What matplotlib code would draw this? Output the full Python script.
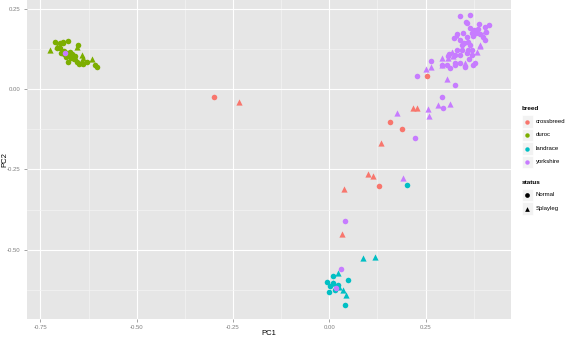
import matplotlib
matplotlib.use("Agg")
import matplotlib.pyplot as plt
from matplotlib.patches import Rectangle
from matplotlib.ticker import MultipleLocator

# ---------------- data ----------------
breeds = ["crossbreed", "duroc", "landrace", "yorkshire"]
colors = ["#F8766D", "#7CAE00", "#00BFC4", "#C77CFF"]
statuses = ["Normal", "Splayleg"]

# crossbreed
cross_n_pc1 = [-0.299, 0.158, 0.190, 0.253, 0.130]
cross_n_pc2 = [-0.025, -0.103, -0.124, 0.042, -0.303]
cross_s_pc1 = [-0.234, 0.218, 0.227, 0.134, 0.101, 0.114, 0.039, 0.032]
cross_s_pc2 = [-0.039, -0.059, -0.057, -0.168, -0.264, -0.270, -0.311, -0.452]

# duroc
duroc_n_pc1 = [-0.712, -0.699, -0.692, -0.678, -0.692, -0.708, -0.699, -0.697, -0.682, -0.673,
               -0.669, -0.665, -0.678, -0.652, -0.643, -0.649, -0.630, -0.608, -0.603, -0.688,
               -0.680, -0.675, -0.685, -0.670, -0.660, -0.690, -0.662, -0.655, -0.640]
duroc_n_pc2 = [0.148, 0.145, 0.148, 0.150, 0.144, 0.128, 0.128, 0.112, 0.107, 0.117,
               0.110, 0.101, 0.084, 0.138, 0.081, 0.078, 0.086, 0.076, 0.069, 0.110,
               0.113, 0.104, 0.100, 0.098, 0.105, 0.118, 0.095, 0.085, 0.080]
duroc_s_pc1 = [-0.725, -0.708, -0.656, -0.641, -0.639, -0.617, -0.670, -0.660]
duroc_s_pc2 = [0.122, 0.136, 0.133, 0.107, 0.097, 0.093, 0.108, 0.100]

# landrace
land_n_pc1 = [0.201, 0.009, 0.049, -0.005, 0.002, 0.019, 0.000, 0.015, 0.041, 0.010, 0.023]
land_n_pc2 = [-0.298, -0.581, -0.596, -0.602, -0.613, -0.617, -0.631, -0.625, -0.672, -0.604, -0.611]
land_s_pc1 = [0.087, 0.119, 0.023, 0.009, 0.035, 0.043, 0.025]
land_s_pc2 = [-0.526, -0.522, -0.573, -0.604, -0.627, -0.641, -0.616]

# yorkshire
york_n_pc1 = [-0.686, 0.030, 0.017, 0.041, 0.222, 0.227, 0.292, 0.296, 0.326,
              0.339, 0.365, 0.355, 0.358, 0.388, 0.414, 0.404, 0.387, 0.372, 0.407,
              0.332, 0.348, 0.325, 0.339, 0.359, 0.374, 0.400, 0.404, 0.361, 0.344,
              0.346, 0.331, 0.312, 0.309, 0.326, 0.339, 0.361, 0.372, 0.357, 0.370,
              0.364, 0.378, 0.374, 0.339, 0.326, 0.292, 0.264, 0.305, 0.314, 0.326,
              0.352, 0.381, 0.365, 0.376, 0.391, 0.350, 0.366]
york_n_pc2 = [0.114, -0.561, -0.620, -0.410, -0.153, 0.041, -0.023, -0.059, 0.013,
              0.229, 0.231, 0.211, 0.206, 0.203, 0.200, 0.193, 0.187, 0.174, 0.179,
              0.172, 0.174, 0.159, 0.154, 0.164, 0.166, 0.164, 0.154, 0.148, 0.138,
              0.122, 0.122, 0.110, 0.102, 0.107, 0.107, 0.122, 0.122, 0.112, 0.107,
              0.093, 0.081, 0.076, 0.083, 0.083, 0.076, 0.088, 0.076, 0.067, 0.076,
              0.070, 0.175, 0.191, 0.185, 0.172, 0.144, 0.138]
york_s_pc1 = [0.191, 0.175, 0.256, 0.260, 0.283, 0.314, 0.305, 0.251, 0.263,
              0.391, 0.318, 0.384, 0.352, 0.294, 0.294, 0.309, 0.321, 0.329, 0.391, 0.404]
york_s_pc2 = [-0.277, -0.075, -0.062, -0.082, -0.049, -0.047, 0.031, 0.063, 0.070,
              0.138, 0.117, 0.117, 0.083, 0.074, 0.097, 0.097, 0.102, 0.170, 0.134, 0.182]

series = [
    (cross_n_pc1, cross_n_pc2, cross_s_pc1, cross_s_pc2),
    (duroc_n_pc1, duroc_n_pc2, duroc_s_pc1, duroc_s_pc2),
    (land_n_pc1, land_n_pc2, land_s_pc1, land_s_pc2),
    (york_n_pc1, york_n_pc2, york_s_pc1, york_s_pc2),
]

x_ticks = [-0.75, -0.50, -0.25, 0.00, 0.25]
x_tick_labels = ["-0.75", "-0.50", "-0.25", "0.00", "0.25"]
y_ticks = [-0.50, -0.25, 0.00, 0.25]
y_tick_labels = ["-0.50", "-0.25", "0.00", "0.25"]

# ---------------- figure ----------------
W, H = 567, 339
plt.rcParams['font.family'] = ['Liberation Sans', 'DejaVu Sans']
fig = plt.figure(figsize=(W / 100, H / 100), dpi=100)
fig.patch.set_facecolor("white")

ax = fig.add_axes([27 / W, 1 - 319 / H, 484 / W, 319 / H])
ax.set_facecolor("#E6E6E6")
for s in ax.spines.values():
    s.set_visible(False)

ax.set_xlim(-0.785, 0.472)
ax.set_ylim(-0.716, 0.278)
ax.xaxis.set_minor_locator(MultipleLocator(0.125))
ax.yaxis.set_minor_locator(MultipleLocator(0.125))
ax.set_xticks(x_ticks)
ax.set_xticklabels(x_tick_labels)
ax.set_yticks(y_ticks)
ax.set_yticklabels(y_tick_labels)
ax.grid(which="major", color="white", lw=0.8)
ax.grid(which="minor", color="#F4F4F4", lw=0.5)
ax.set_axisbelow(True)
ax.tick_params(which="major", length=2.5, width=0.5, color="#7F7F7F",
               labelsize=4.3, labelcolor="#7F7F7F", pad=2)
ax.tick_params(which="minor", length=0)

for (nx, ny, sx, sy), c in zip(series, colors):
    ax.scatter(nx, ny, s=16, marker="o", color=c, linewidths=0, zorder=3)
    ax.scatter(sx, sy, s=20, marker="^", color=c, linewidths=0, zorder=3)

# axis titles placed in figure pixels
fig.text(269 / W, 1 - 333.5 / H, "PC1", fontsize=5.5, ha="center", va="center")
fig.text(5 / W, 1 - 160 / H, "PC2", fontsize=5.5, ha="center", va="center", rotation=90)

# ---------------- legend ----------------
lg = fig.add_axes([0, 0, 1, 1], zorder=5)
lg.set_xlim(0, W)
lg.set_ylim(H, 0)
lg.axis("off")

lg.text(521.5, 108, "breed", fontsize=4.6, fontweight="bold", va="center", ha="left")
row_h = 13.5
for i, (b, c) in enumerate(zip(breeds, colors)):
    yc = 121.5 + i * row_h
    lg.add_patch(Rectangle((521.5, yc - row_h / 2 + 0.5), 11, row_h - 1,
                           facecolor="#F2F2F2", edgecolor="white", lw=0.5))
    lg.plot([527], [yc], marker="o", ms=3.2, color=c, mew=0)
    lg.text(535.5, yc, b, fontsize=4.3, va="center", ha="left")

lg.text(521.5, 182, "status", fontsize=4.6, fontweight="bold", va="center", ha="left")
for i, (st, m) in enumerate(zip(statuses, ["o", "^"])):
    yc = 195 + i * row_h
    lg.add_patch(Rectangle((521.5, yc - row_h / 2 + 0.5), 11, row_h - 1,
                           facecolor="#F2F2F2", edgecolor="white", lw=0.5))
    lg.plot([527], [yc], marker=m, ms=3.4, color="black", mew=0)
    lg.text(535.5, yc, st, fontsize=4.3, va="center", ha="left")

fig.savefig("out.png", dpi=100)
